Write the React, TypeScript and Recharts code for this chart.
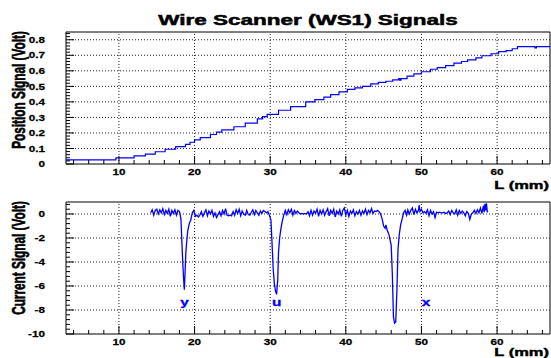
import React from 'react';
import { LineChart, ComposedChart, Line, Scatter, XAxis, YAxis, ReferenceLine, ReferenceArea } from 'recharts';

// ---------- tick values ----------
const L_MAJOR = [10, 20, 30, 40, 50, 60];
const L_MINOR = [4, 6, 8, 10, 12, 14, 16, 18, 20, 22, 24, 26, 28, 30, 32, 34, 36, 38, 40, 42, 44, 46, 48, 50, 52, 54, 56, 58, 60, 62, 64, 66];
const POS_MAJOR = [0, 0.1, 0.2, 0.3, 0.4, 0.5, 0.6, 0.7, 0.8];
const POS_LABELS = ['0', '0.1', '0.2', '0.3', '0.4', '0.5', '0.6', '0.7', '0.8'];
const POS_MINOR = [0, 0.02, 0.04, 0.06, 0.08, 0.1, 0.12, 0.14, 0.16, 0.18, 0.2, 0.22, 0.24, 0.26, 0.28, 0.3, 0.32, 0.34, 0.36, 0.38, 0.4, 0.42, 0.44, 0.46, 0.48, 0.5, 0.52, 0.54, 0.56, 0.58, 0.6, 0.62, 0.64, 0.66, 0.68, 0.7, 0.72, 0.74, 0.76, 0.78, 0.8, 0.82, 0.84];
const CUR_MAJOR = [-10, -8, -6, -4, -2, 0];
const CUR_LABELS = ['-10', '-8', '-6', '-4', '-2', '0'];
const CUR_MINOR = [-10, -9.6, -9.2, -8.8, -8.4, -8, -7.6, -7.2, -6.8, -6.4, -6, -5.6, -5.2, -4.8, -4.4, -4, -3.6, -3.2, -2.8, -2.4, -2, -1.6, -1.2, -0.8, -0.4, 0, 0.4, 0.8];

// ---------- data ----------
// Position signal (L in mm, volts) — stair-like readout
const positionSignal: [number, number][] = [
  [3, 0.026], [9.6, 0.04], [12.0, 0.052], [13.5, 0.063], [14.8, 0.079], [16.1, 0.095], [17.5, 0.112],
  [18.8, 0.127], [19.4, 0.14], [20.0, 0.155], [20.75, 0.17], [22.1, 0.19], [22.9, 0.205], [23.6, 0.22],
  [25.2, 0.24], [26.7, 0.263], [28.3, 0.29], [29.0, 0.305], [29.6, 0.32], [31.1, 0.346], [32.7, 0.37],
  [34.7, 0.4], [35.9, 0.415], [37.1, 0.43], [38.0, 0.447], [39.1, 0.465], [40.2, 0.48], [41.2, 0.49],
  [42.2, 0.5], [43.3, 0.516], [44.3, 0.525], [45.3, 0.533], [46.2, 0.542], [47.0, 0.55], [47.15, 0.54],
  [47.3, 0.55], [48.1, 0.566], [49.0, 0.58], [50.0, 0.594], [51.2, 0.61], [52.1, 0.62], [53.2, 0.634],
  [54.3, 0.65], [55.3, 0.66], [56.1, 0.67], [57.2, 0.684], [58.0, 0.697], [59.2, 0.71], [60.2, 0.723],
  [61.2, 0.73], [62.0, 0.742], [62.7, 0.756], [65.0, 0.748], [65.2, 0.756], [67, 0.756],
];

// Current signal (L in mm, volts)
const currentSignal: [number, number][] = [
  [14.2, 0.1], [14.4, 0.35], [14.6, -0.1], [14.8, 0.3], [15.0, 0.4], [15.2, 0.0], [15.4, 0.35], [15.6, 0.1],
  [15.8, 0.45], [16.0, -0.05], [16.2, 0.3], [16.4, 0.05], [16.6, 0.4], [16.8, -0.2], [17.0, 0.3], [17.2, 0.05],
  [17.4, 0.35], [17.6, -0.1], [17.8, 0.3], [18.0, 0.2], [18.2, -0.4], [18.3, -2.0], [18.45, -4.2], [18.55, -5.4],
  [18.65, -6.3], [18.75, -4.8], [18.85, -3.2], [18.95, -2.4], [19.1, -1.4], [19.3, -0.8], [19.5, -0.5], [19.7, 0.1],
  [19.9, 0.3], [20.1, -0.2], [20.3, -0.1], [20.5, -0.25], [20.7, -0.1], [20.9, 0.2], [21.1, -0.2], [21.3, 0.1],
  [21.5, 0.35], [21.7, -0.15], [21.9, 0.25], [22.1, 0.0], [22.3, 0.3], [22.5, -0.2], [22.7, 0.1], [22.9, -0.3],
  [23.1, -0.05], [23.3, 0.2], [23.5, -0.15], [23.7, 0.3], [23.9, 0.0], [24.1, 0.45], [24.3, -0.1], [24.5, -0.15],
  [24.7, -0.1], [24.9, -0.15], [25.1, 0.2], [25.3, -0.1], [25.5, 0.35], [25.7, 0.05], [25.9, 0.4], [26.1, -0.15],
  [26.3, 0.25], [26.5, 0.0], [26.7, -0.1], [26.9, 0.3], [27.1, -0.05], [27.3, -0.1], [27.5, 0.15], [27.7, 0.35],
  [27.9, -0.05], [28.1, 0.3], [28.3, 0.1], [28.5, -0.1], [28.7, 0.25], [28.9, 0.05], [29.1, 0.3], [29.3, 0.2],
  [29.5, 0.1], [29.7, 0.2], [29.9, -0.1], [30.1, -0.5], [30.25, -2.5], [30.4, -4.6], [30.55, -5.8], [30.7, -6.4],
  [30.85, -6.7], [31.0, -5.5], [31.1, -3.2], [31.25, -2.0], [31.4, -1.3], [31.6, -0.6], [31.8, -0.1], [32.0, 0.3],
  [32.2, -0.05], [32.4, 0.35], [32.6, 0.1], [32.8, 0.4], [33.0, -0.1], [33.2, 0.3], [33.4, 0.05], [33.6, 0.25],
  [33.8, 0.1], [34.0, 0.0], [34.2, 0.05], [34.4, 0.0], [34.6, 0.05], [34.8, 0.0], [35.0, 0.2], [35.2, -0.15],
  [35.4, 0.3], [35.6, -0.1], [35.8, 0.25], [36.0, 0.05], [36.2, 0.4], [36.4, -0.2], [36.6, 0.3], [36.8, 0.0],
  [37.0, 0.35], [37.2, -0.1], [37.4, 0.2], [37.6, 0.45], [37.8, -0.15], [38.0, 0.3], [38.2, 0.05], [38.4, 0.4],
  [38.6, -0.25], [38.8, 0.25], [39.0, 0.0], [39.2, 0.35], [39.4, -0.2], [39.6, 0.3], [39.8, 0.5], [40.0, -0.1],
  [40.2, 0.3], [40.4, -0.2], [40.6, 0.25], [40.8, 0.05], [41.0, 0.35], [41.2, -0.15], [41.4, 0.2], [41.6, 0.0],
  [41.8, 0.3], [42.0, -0.1], [42.2, 0.25], [42.4, 0.05], [42.6, 0.4], [42.8, -0.05], [43.0, 0.3], [43.2, 0.1],
  [43.4, 0.45], [43.6, 0.05], [43.8, 0.25], [44.0, 0.2], [44.2, 0.3], [44.4, 0.2], [44.6, 0.0], [44.8, -0.4],
  [45.0, -1.0], [45.2, -1.2], [45.3, -0.9], [45.5, -1.4], [45.7, -1.7], [45.9, -2.3], [46.0, -2.6], [46.15, -5.0],
  [46.3, -8.6], [46.45, -9.1], [46.6, -9.0], [46.75, -6.5], [46.9, -3.0], [47.05, -1.8], [47.25, -0.9], [47.45, -0.4],
  [47.65, 0.1], [47.85, 0.3], [48.05, -0.1], [48.2, 0.35], [48.4, 0.0], [48.6, 0.3], [48.8, 0.5], [49.0, -0.05],
  [49.2, 0.4], [49.4, 0.1], [49.6, 0.3], [49.7, 0.75], [49.8, 0.2], [50.0, 0.4], [50.2, 0.1], [50.4, 0.2],
  [50.6, 0.05], [50.8, 0.35], [51.0, -0.15], [51.2, 0.3], [51.4, 0.0], [51.6, 0.2], [51.8, -0.3], [52.0, 0.15],
  [52.2, 0.1], [52.4, 0.15], [52.6, 0.1], [52.8, 0.1], [53.0, 0.15], [53.2, 0.05], [53.4, 0.1], [53.6, 0.25],
  [53.8, -0.05], [54.0, 0.3], [54.2, 0.1], [54.4, 0.0], [54.6, 0.35], [54.8, -0.1], [55.0, 0.3], [55.2, 0.05],
  [55.4, 0.25], [55.6, 0.1], [55.8, -0.15], [56.0, 0.2], [56.2, 0.05], [56.4, -0.45], [56.6, 0.0], [56.8, 0.1],
  [57.0, 0.3], [57.2, 0.05], [57.4, 0.35], [57.6, 0.1], [57.8, 0.5], [58.0, 0.05], [58.2, 0.7], [58.3, 0.15],
  [58.4, 0.85], [58.5, 0.3], [58.6, 0.9], [58.7, 0.2], [58.8, 0.15],
];

// Wire labels under the current dips
const wireL = [18.67, 30.86, 50.6];
const wireV = [-7.3, -7.3, -7.3];
const wireName = ['y', 'u', 'x'];

const L_DOMAIN: [number, number] = [3, 67];
const POS_DOMAIN: [number, number] = [0, 0.85];
const CUR_DOMAIN: [number, number] = [-10, 1];

const posData = positionSignal.map(([L, v]) => ({ L, v }));
const curData = currentSignal.map(([L, v]) => ({ L, v }));
const wireData = wireL.map((L, i) => ({ L, v: wireV[i], name: wireName[i] }));

const FONT = "'Liberation Sans', Arial, Helvetica, sans-serif";
const BLUE = '#0000ff';

function WText(props: any) {
  const { x, y, size, sx = 1.4, anchor = 'middle', fill = '#000', rotate = 0, weight = 0.3, children } = props;
  return (
    <text
      transform={`translate(${x},${y}) scale(${sx},1)${rotate ? ` rotate(${rotate})` : ''}`}
      x={0}
      y={0}
      textAnchor={anchor}
      fontFamily={FONT}
      fontWeight="bold"
      fontSize={size}
      fill={fill}
      stroke={fill}
      strokeWidth={weight}
    >
      {children}
    </text>
  );
}

const isIn = (arr: number[], v: number) => arr.findIndex((a) => Math.abs(a - v) < 1e-6);

function XTick(props: any) {
  const { x, y, payload } = props;
  const i = isIn(L_MAJOR, payload.value);
  const major = i >= 0;
  return (
    <g>
      <line x1={x} x2={x} y1={y} y2={y - (major ? 8 : 4)} stroke="#000" strokeWidth={1} />
      {major && (
        <WText x={x} y={y + 11} size={9} sx={1.3} weight={0.25}>
          {String(L_MAJOR[i])}
        </WText>
      )}
    </g>
  );
}

function makeYTick(major: number[], labels: string[]) {
  return function YTick(props: any) {
    const { x, y, payload } = props;
    const i = isIn(major, payload.value);
    const isMajor = i >= 0;
    return (
      <g>
        <line x1={x} x2={x + (isMajor ? 8 : 4)} y1={y} y2={y} stroke="#000" strokeWidth={1} />
        {isMajor && (
          <WText x={x - 21} y={y + 3.2} size={9} sx={1.3} anchor="end" weight={0.25}>
            {labels[i]}
          </WText>
        )}
      </g>
    );
  };
}

const PosTick = makeYTick(POS_MAJOR, POS_LABELS);
const CurTick = makeYTick(CUR_MAJOR, CUR_LABELS);

function WireLabel(props: any) {
  const { cx, cy, payload } = props;
  if (cx == null || cy == null) return null;
  return (
    <WText x={cx} y={cy + 4} size={11} sx={1.4} fill={BLUE}>
      {payload.name}
    </WText>
  );
}

const gridProps = { stroke: '#222', strokeDasharray: '1 2', strokeWidth: 1 };

export default function App() {
  return (
    <div style={{ position: 'absolute', left: 0, top: 0, width: 551, height: 358, background: '#fff', overflow: 'hidden' }}>
      <div style={{ position: 'absolute', left: 0, top: 0 }}>
        <LineChart width={551} height={200} data={posData} margin={{ top: 32, right: 1, bottom: 0, left: 0 }}>
          <XAxis
            dataKey="L"
            type="number"
            domain={L_DOMAIN}
            allowDataOverflow
            ticks={L_MINOR}
            interval={0}
            tick={<XTick />}
            tickLine={false}
            tickSize={0}
            tickMargin={0}
            axisLine={false}
            height={36}
          />
          <YAxis
            type="number"
            domain={POS_DOMAIN}
            allowDataOverflow
            ticks={POS_MINOR}
            interval={0}
            tick={<PosTick />}
            tickLine={false}
            tickSize={0}
            tickMargin={0}
            axisLine={false}
            width={66}
          />
          {L_MAJOR.map((v) => (
            <ReferenceLine key={'vx' + v} x={v} {...gridProps} />
          ))}
          {POS_MAJOR.filter((v) => v > 0).map((v) => (
            <ReferenceLine key={'hy' + v} y={v} {...gridProps} />
          ))}
          <Line type="stepAfter" dataKey="v" stroke={BLUE} strokeWidth={1.2} dot={false} isAnimationActive={false} />
          <ReferenceArea x1={L_DOMAIN[0]} x2={L_DOMAIN[1]} y1={POS_DOMAIN[0]} y2={POS_DOMAIN[1]} fill="none" fillOpacity={0} stroke="#000" strokeWidth={1} ifOverflow="visible" />
        </LineChart>
      </div>
      <div style={{ position: 'absolute', left: 0, top: 170 }}>
        <ComposedChart width={551} height={188} data={curData} margin={{ top: 32, right: 1, bottom: 0, left: 0 }}>
          <XAxis
            dataKey="L"
            type="number"
            domain={L_DOMAIN}
            allowDataOverflow
            ticks={L_MINOR}
            interval={0}
            tick={<XTick />}
            tickLine={false}
            tickSize={0}
            tickMargin={0}
            axisLine={false}
            height={24}
          />
          <YAxis
            type="number"
            domain={CUR_DOMAIN}
            allowDataOverflow
            ticks={CUR_MINOR}
            interval={0}
            tick={<CurTick />}
            tickLine={false}
            tickSize={0}
            tickMargin={0}
            axisLine={false}
            width={66}
          />
          {L_MAJOR.map((v) => (
            <ReferenceLine key={'vx' + v} x={v} {...gridProps} />
          ))}
          {CUR_MAJOR.filter((v) => v > -10).map((v) => (
            <ReferenceLine key={'hy' + v} y={v} {...gridProps} />
          ))}
          <Line type="linear" dataKey="v" stroke={BLUE} strokeWidth={1.3} dot={false} isAnimationActive={false} />
          <Scatter data={wireData} dataKey="v" shape={<WireLabel />} isAnimationActive={false} />
          <ReferenceArea x1={L_DOMAIN[0]} x2={L_DOMAIN[1]} y1={CUR_DOMAIN[0]} y2={CUR_DOMAIN[1]} fill="none" fillOpacity={0} stroke="#000" strokeWidth={1} ifOverflow="visible" />
        </ComposedChart>
      </div>
      <svg width={551} height={358} style={{ position: 'absolute', left: 0, top: 0, pointerEvents: 'none' }}>
        <WText x={308} y={25} size={15} sx={1.5} weight={0.5}>Wire Scanner (WS1) Signals</WText>
        <WText x={25} y={90} size={11.8} sx={1.55} rotate={-90} weight={0.4}>Position Signal (Volt)</WText>
        <WText x={25} y={258} size={11.8} sx={1.55} rotate={-90} weight={0.4}>Current Signal (Volt)</WText>
        <WText x={549} y={189} size={11} sx={1.5} anchor="end" weight={0.4}>L (mm)</WText>
        <WText x={549} y={356} size={11} sx={1.5} anchor="end" weight={0.4}>L (mm)</WText>
      </svg>
    </div>
  );
}
